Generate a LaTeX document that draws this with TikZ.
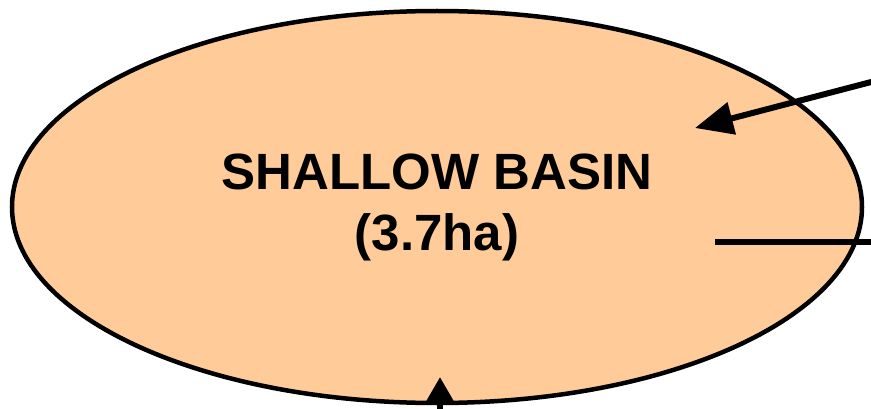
\documentclass[tikz,border=0pt]{standalone}
\usepackage{fontspec}
\setmainfont{Liberation Sans}
\usetikzlibrary{shapes.geometric, arrows.meta, positioning}
\definecolor{peach}{RGB}{255, 204, 153}

\begin{document}
\begin{tikzpicture}[
  x=1pt, y=-1pt,
  basin/.style={ellipse, draw=black, fill=peach, line width=4.5pt, minimum width=850pt, minimum height=392pt, align=center, font=\fontsize{51}{61}\selectfont\bfseries, inner sep=0pt},
  flow/.style={line width=6pt, draw=black},
  arrow/.style={flow, -{Triangle[length=38pt, width=32pt]}},
  uparrow/.style={flow, -{Triangle[length=26pt, width=28pt]}}
]
\useasboundingbox (0,0) rectangle (871,409);
\clip (0,0) rectangle (871,409);

% Basin
\node[basin] (shallow) at (437,207) {SHALLOW BASIN\\(3.7ha)};

% Connector ends
\coordinate (inflowR) at (875,81);
\coordinate (inflowTip) at (695,128);
\coordinate (outflowL) at (715,242);
\coordinate (outflowR) at (875,242);
\coordinate (inflowB) at (440,440);
\coordinate (inflowBTip) at (440,377);

% Connectors
\draw[arrow] (inflowR) -- (inflowTip);
\draw[flow] (outflowL) -- (outflowR);
\draw[uparrow] (inflowB) -- (inflowBTip);

\end{tikzpicture}
\end{document}
